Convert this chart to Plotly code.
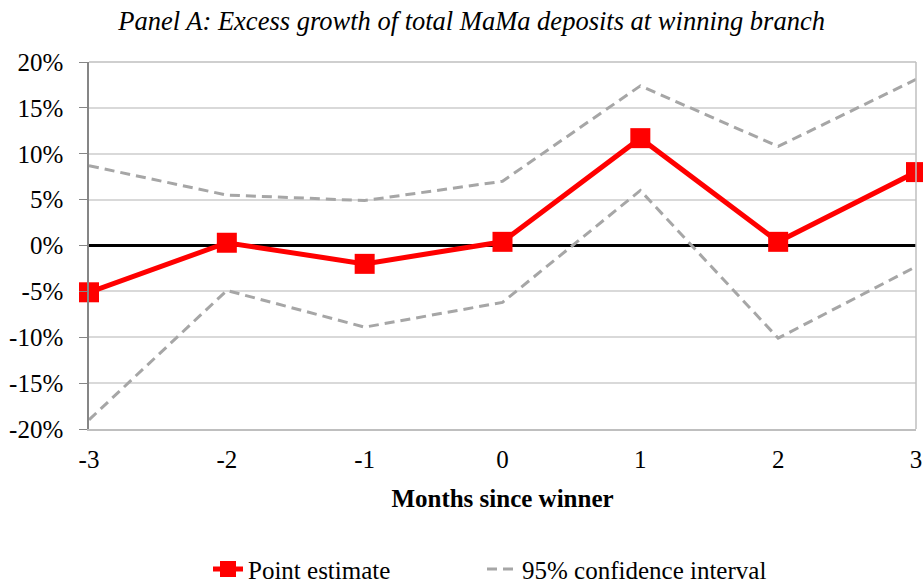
import plotly.graph_objects as go

months = [-3, -2, -1, 0, 1, 2, 3]
month_labels = ["-3", "-2", "-1", "0", "1", "2", "3"]
point_estimate = [-5.1, 0.3, -2.0, 0.4, 11.7, 0.4, 8.0]
ci_upper = [8.7, 5.5, 4.9, 7.0, 17.4, 10.8, 18.1]
ci_lower = [-19.0, -4.9, -8.9, -6.2, 6.0, -10.1, -2.3]
y_ticks = [20, 15, 10, 5, 0, -5, -10, -15, -20]
y_labels = ["20%", "15%", "10%", "5%", "0%", "-5%", "-10%", "-15%", "-20%"]

FONT = "Liberation Serif"
CI_COLOR = "#a6a6a6"

fig = go.Figure()
fig.add_trace(
    go.Scatter(
        x=months, y=point_estimate, mode="lines+markers", name="Point estimate",
        line=dict(color="#ff0000", width=5),
        marker=dict(symbol="square", size=20, color="#ff0000"),
        cliponaxis=False, legend="legend",
    )
)
fig.add_trace(
    go.Scatter(
        x=months, y=ci_upper, mode="lines", name="95% confidence interval",
        line=dict(color=CI_COLOR, width=3, dash="10px,6px"),
        cliponaxis=False, legend="legend2",
    )
)
fig.add_trace(
    go.Scatter(
        x=months, y=ci_lower, mode="lines", showlegend=False,
        line=dict(color=CI_COLOR, width=3, dash="10px,6px"),
        cliponaxis=False,
    )
)

legend_style = dict(
    xref="container", yref="container", xanchor="left", yanchor="middle",
    y=0.027, font=dict(family=FONT, size=25), bgcolor="rgba(0,0,0,0)",
)

fig.update_layout(
    width=923, height=585,
    margin=dict(l=89, r=7, t=62, b=156, autoexpand=False),
    paper_bgcolor="white", plot_bgcolor="white",
    font=dict(family=FONT, size=25, color="black"),
    title=dict(
        text="<i>Panel A: Excess growth of total MaMa deposits at winning branch</i>",
        x=0.511, xanchor="center", y=0.965, yanchor="middle",
        font=dict(family=FONT, size=26.5),
    ),
    legend=dict(x=(248 - 40) / 923, **legend_style),
    legend2=dict(x=(522 - 40) / 923, **legend_style),
    shapes=[
        dict(type="line", xref="paper", yref="paper", x0=0, x1=1, y0=1, y1=1,
             line=dict(color="#bfbfbf", width=1.5)),
        dict(type="line", xref="paper", yref="paper", x0=1, x1=1, y0=0, y1=1,
             line=dict(color="#bfbfbf", width=1.5)),
    ],
)

fig.update_xaxes(
    range=[-3, 3], tickvals=months, ticktext=month_labels,
    showgrid=False, zeroline=False, automargin=False,
    showline=True, linecolor="#bfbfbf", linewidth=1.5,
    ticks="outside", ticklen=7, tickcolor="rgba(0,0,0,0)",
    title=dict(text="<b>Months since winner</b>", standoff=18, font=dict(family=FONT, size=25)),
)
fig.update_yaxes(
    range=[-20, 20], tickvals=y_ticks, ticktext=y_labels,
    showgrid=True, gridcolor="#d9d9d9", gridwidth=1.5,
    zeroline=True, zerolinecolor="black", zerolinewidth=3,
    showline=True, linecolor="#868686", linewidth=1.5, automargin=False,
    ticks="outside", ticklen=8, tickcolor="#868686", ticklabelstandoff=11,
)

fig.write_html(
    "out.html",
    config={"displayModeBar": False},
    post_script="document.body.style.margin = '0px';",
)
